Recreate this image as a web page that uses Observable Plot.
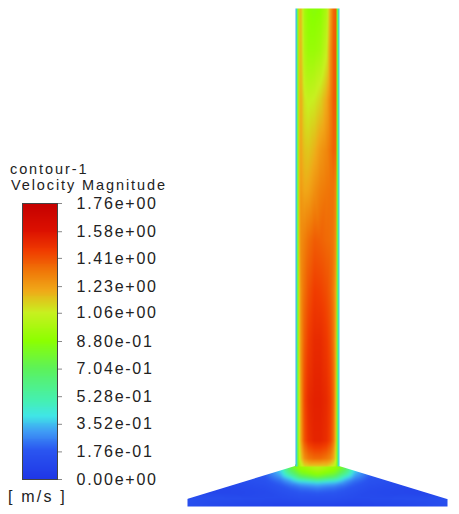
<!DOCTYPE html>
<html><head><meta charset="utf-8">
<script src="https://cdn.jsdelivr.net/npm/d3@7"></script>
<script src="https://cdn.jsdelivr.net/npm/@observablehq/plot@0.6"></script>
<style>
html,body{margin:0;padding:0;background:#fff}
#wrap{position:relative;width:459px;height:514px;overflow:hidden;font-family:"Liberation Sans",sans-serif;color:#222}
#wrap>svg{position:absolute;left:0;top:0}
.t{position:absolute;font-size:14.5px;letter-spacing:1.9px;white-space:nowrap;line-height:15px}
</style></head><body><div id="wrap"></div>
<script>
// Colour legend
const legendTitle = "contour-1";
const legendVariable = "Velocity Magnitude";
const legendUnit = "[ m/s ]";
const tickValues = [0, 0.176, 0.352, 0.528, 0.704, 0.88, 1.06, 1.23, 1.41, 1.58, 1.76];
const tickLabels = ["0.00e+00","1.76e-01","3.52e-01","5.28e-01","7.04e-01","8.80e-01","1.06e+00","1.23e+00","1.41e+00","1.58e+00","1.76e+00"];
const colorStops = [0, 0.18, 0.30, 0.40, 0.50, 0.70, 0.88, 1.06, 1.20, 1.32, 1.45, 1.58, 1.76];
const colorRange = ["#1f37e6","#2a55f0","#3f9cf5","#40e6e6","#45f0b0","#5cf25a","#8cff00","#c8f020","#f0a818","#f07808","#f03c00","#dc1000","#c40000"];

// Pipe: velocity across the section (columns) at stations along the height (rows)
const pipeX = [295,296,297,298,300,302,304,308,314,320,326,330,333,335.5,336.5,338,339];
const pipeY = [8,50,100,150,190,240,290,340,400,440,458,466];
const pipeV = [
 [.25,.4,.7,1.1,1.18,1.08,.95,.88,.86,.88,.98,1.22,1.36,1.38,.85,.45,.28],
 [.25,.4,.7,1.1,1.18,1.1,.98,.92,.92,.95,1.05,1.26,1.38,1.38,.85,.45,.28],
 [.25,.4,.7,1.1,1.2,1.15,1.08,1.05,1.07,1.12,1.2,1.3,1.38,1.38,.85,.45,.28],
 [.25,.4,.7,1.1,1.22,1.18,1.15,1.14,1.18,1.24,1.28,1.33,1.37,1.35,.85,.45,.28],
 [.25,.4,.7,1.1,1.24,1.22,1.2,1.21,1.26,1.3,1.32,1.33,1.33,1.28,.85,.45,.28],
 [.25,.4,.7,1.1,1.26,1.28,1.3,1.34,1.38,1.37,1.35,1.34,1.32,1.25,.85,.45,.28],
 [.25,.4,.68,1.06,1.24,1.3,1.34,1.4,1.45,1.44,1.41,1.37,1.31,1.2,.82,.45,.28],
 [.25,.4,.68,1.05,1.23,1.31,1.38,1.45,1.5,1.5,1.46,1.41,1.33,1.18,.82,.45,.28],
 [.25,.4,.65,1.0,1.2,1.32,1.42,1.5,1.53,1.53,1.5,1.45,1.36,1.16,.82,.45,.28],
 [.25,.4,.65,1.0,1.18,1.3,1.4,1.48,1.52,1.52,1.49,1.43,1.33,1.14,.82,.45,.28],
 [.25,.4,.65,.95,1.1,1.18,1.26,1.32,1.35,1.35,1.32,1.28,1.2,1.08,.82,.45,.28],
 [.25,.4,.65,.9,1,1.05,1.1,1.12,1.12,1.12,1.12,1.08,1.05,.98,.82,.45,.28]
];

// Cone: velocity across the section at stations along the height
const coneX = [187,230,265,280,290,300,317,334,344,354,369,404,447];
const coneY = [464,468,473,477,480,483,487,492,498,506];
const coneV = [
 [.1,.12,.2,.4,.75,.95,1.02,.95,.75,.4,.2,.12,.1],
 [.1,.12,.2,.4,.72,.9,1.0,.9,.72,.4,.2,.12,.1],
 [.1,.12,.2,.34,.6,.8,.9,.8,.6,.34,.2,.12,.1],
 [.1,.12,.18,.28,.42,.64,.76,.64,.42,.28,.18,.12,.1],
 [.1,.12,.16,.23,.32,.44,.54,.44,.32,.23,.16,.12,.1],
 [.1,.11,.15,.2,.26,.32,.36,.32,.26,.2,.15,.11,.1],
 [.09,.1,.13,.17,.2,.23,.26,.23,.2,.17,.13,.1,.09],
 [.08,.09,.11,.14,.16,.18,.19,.18,.16,.14,.11,.09,.08],
 [.15,.13,.12,.12,.13,.14,.14,.14,.13,.12,.12,.13,.15],
 [.14,.09,.07,.06,.06,.06,.06,.06,.06,.06,.07,.09,.14]
];
// Edges of the cone, used to mask the field outside it
const coneLeftX = [186,187,295], coneLeftTop = [499,499,466];
const coneRightX = [339,447,448], coneRightTop = [466,499,499];

const grid = (xs, ys, vs) => ys.flatMap((y,j) => xs.map((x,i) => ({x, y, v: vs[j][i]})));
const color = {type:"linear", domain: colorStops, range: colorRange, interpolate:"rgb"};
const mask = (xs, tops) => Plot.areaY(xs.map((x,i)=>({x, y1:tops[i], y2:462})), {x:"x", y1:"y1", y2:"y2", fill:"#fff"});

const rasterOpts = {x:"x", y:"y", fill:"v", interpolate:"barycentric", pixelSize:1};
const field = Plot.plot({
  width:459, height:514, margin:0, style:{background:"transparent"},
  x:{domain:[0,459], range:[0,459], axis:null},
  y:{domain:[0,514], range:[0,514], axis:null},
  color,
  marks:[
    Plot.raster(grid(coneX, coneY, coneV), {...rasterOpts, blur:1, x1:187, x2:447, y1:464, y2:506}),
    mask(coneLeftX, coneLeftTop),
    mask(coneRightX, coneRightTop),
    Plot.raster(grid(pipeX, pipeY, pipeV), {...rasterOpts, x1:295, x2:339, y1:8, y2:466})
  ]
});

const ramp = d3.range(0, 1.76, 0.006).map(v => ({v}));
const legend = Plot.plot({
  width:180, height:514, marginLeft:22, marginRight:123, marginTop:203, marginBottom:35,
  style:{background:"transparent", letterSpacing:"1.75px", fontFamily:"Liberation Sans"},
  x:{domain:[0,1], axis:null},
  y:{domain:[0,1.76], axis:null},
  color,
  marks:[
    Plot.rect(ramp, {x1:0, x2:1, y1:"v", y2:d=>Math.min(1.76,d.v+0.02), fill:"v", shapeRendering:"crispEdges"}),
    Plot.frame({stroke:"#444", strokeWidth:1}),
    Plot.axisY({anchor:"right", ticks:tickValues, tickSize:4, tickPadding:15, stroke:"#888",
      tickFormat:v => tickLabels[tickValues.indexOf(v)],
      fontSize:16, fill:"#222", label:null})
  ]
});

const wrap = document.getElementById("wrap");
wrap.append(field, legend);
[[legendTitle,10,162],[legendVariable,11,178],[legendUnit,8,489]].forEach(([s,x,y],i)=>{
  const d=document.createElement("div"); d.className="t"; d.textContent=s;
  d.style.left=x+"px"; d.style.top=y+"px";
  if(i==2){d.style.fontSize="16px";d.style.letterSpacing="2.2px"}
  wrap.append(d);
});
</script></body></html>
